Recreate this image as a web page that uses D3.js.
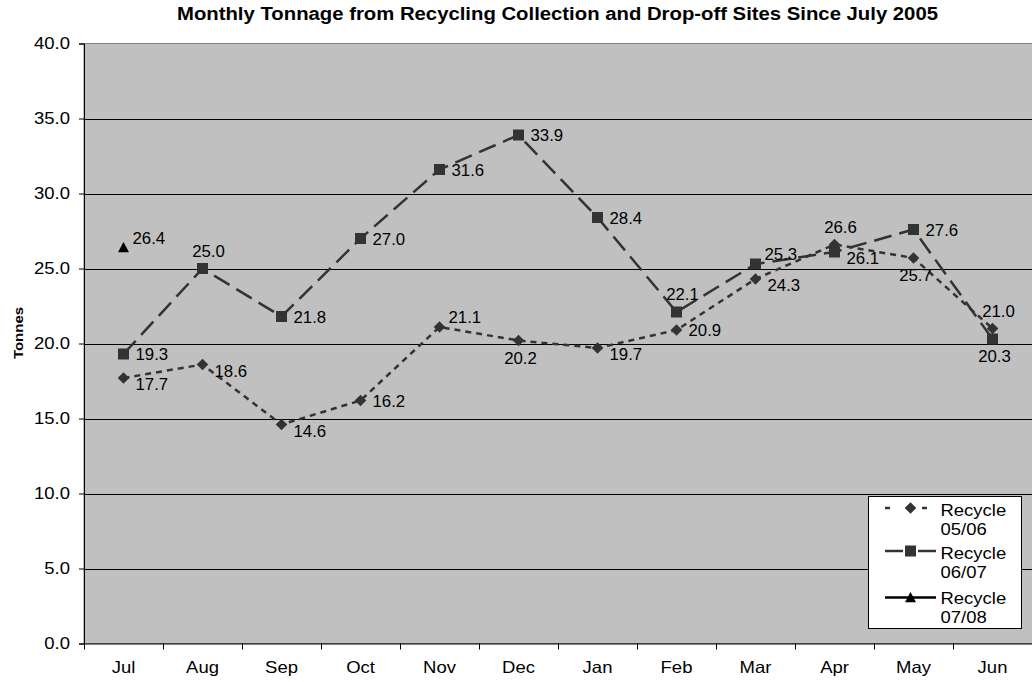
<!DOCTYPE html>
<html><head><meta charset="utf-8">
<script src="https://cdn.jsdelivr.net/npm/d3@7"></script>
<style>body{margin:0;background:#fff}text{font-family:"Liberation Sans",Arial,sans-serif}</style>
</head><body><svg id="c" width="1032" height="682"></svg>
<script>
const months = ["Jul","Aug","Sep","Oct","Nov","Dec","Jan","Feb","Mar","Apr","May","Jun"];
const yTicks = [0,5,10,15,20,25,30,35,40];
const recycle0506 = [17.7,18.6,14.6,16.2,21.1,20.2,19.7,20.9,24.3,26.6,25.7,21.0];
const recycle0607 = [19.3,25.0,21.8,27.0,31.6,33.9,28.4,22.1,25.3,26.1,27.6,20.3];
const recycle0708 = [26.4];
// label placement codes
const place0506 = ["rb","rb","rb","r","ra","b","rb","r","rb","a","b","a"];
const place0607 = ["r","a","r","r","r","r","r","a","ra","rb","r","b"];
const place0708 = ["ra"];
const seriesNames = [["Recycle","05/06"],["Recycle","06/07"],["Recycle","07/08"]];

const svg = d3.select("#c");
const L=84,R=1032,T=43.5,B=643.5;
const x = d3.scaleBand().domain(months).range([L,R]);
const y = d3.scaleLinear().domain([0,40]).range([B,T]);

function stretch(sel,k){
  sel.each(function(){const w=this.getComputedTextLength();
    d3.select(this).attr("textLength",w*k).attr("lengthAdjust","spacingAndGlyphs");});
}

svg.append("text").attr("x",557.5).attr("y",20).attr("text-anchor","middle")
  .attr("font-size","17.5px").attr("font-weight","bold").text("Monthly Tonnage from Recycling Collection and Drop-off Sites Since July 2005")
  .call(stretch,1.16);

svg.append("rect").attr("x",L).attr("y",T).attr("width",R-L+2).attr("height",B-T)
  .attr("fill","#c0c0c0").attr("stroke","#808080").attr("stroke-width",1);

svg.append("g").selectAll("line").data(yTicks.filter(d=>d>0&&d<40)).join("line")
  .attr("x1",L).attr("x2",R).attr("y1",d=>Math.round(y(d))+0.5).attr("y2",d=>Math.round(y(d))+0.5)
  .attr("stroke","#000").attr("stroke-width",1);

const yAxis = svg.append("g").attr("transform",`translate(${L},0)`)
  .call(d3.axisLeft(y).tickValues(yTicks).tickFormat(d3.format(".1f")).tickSize(5).tickPadding(9));
yAxis.select(".domain").attr("stroke","#000");
yAxis.selectAll("text").attr("font-size","16.5px").attr("fill","#000").style("font-family","Liberation Sans, Arial").call(stretch,1.12);

const xAxis = svg.append("g").attr("transform",`translate(0,${B})`)
  .call(d3.axisBottom(x).tickSize(0).tickPadding(18));
xAxis.select(".domain").attr("stroke","#000");
xAxis.selectAll("text").attr("font-size","16.5px").attr("fill","#000").style("font-family","Liberation Sans, Arial").call(stretch,1.12);
svg.append("g").selectAll("line").data(months).join("line")
  .attr("x1",d=>x(d)+0.5).attr("x2",d=>x(d)+0.5).attr("y1",B).attr("y2",B+6).attr("stroke","#000");

svg.append("text").attr("transform",`translate(23,333) rotate(-90)`).attr("text-anchor","middle")
  .attr("font-size","12.5px").attr("font-weight","bold").text("Tonnes").call(stretch,1.2);

const cx = i => x(months[i]) + x.bandwidth()/2;
const marker = {
  diamond: s => `M0,${-s}L${s},0L0,${s}L${-s},0Z`,
  square: s => `M${-s},${-s}H${s}V${s}H${-s}Z`,
  triangle: s => `M0,${-s}L${s},${s*0.85}H${-s}Z`
};
const offs = {
  r:{dx:12,dy:6,a:"start"}, rb:{dx:12,dy:12,a:"start"}, ra:{dx:9,dy:-4,a:"start"},
  a:{dx:6,dy:-12,a:"middle"}, b:{dx:2,dy:23,a:"middle"}
};
const series = [
  {vals:recycle0506, place:place0506, color:"#333333", dash:"6,5", mk:"diamond", ms:5.8},
  {vals:recycle0607, place:place0607, color:"#333333", dash:"18,8", mk:"square", ms:5.5},
  {vals:recycle0708, place:place0708, color:"#000000", dash:null, mk:"triangle", ms:5.5}
];
const line = d3.line().x((d,i)=>cx(i)).y(d=>y(d));
series.forEach(s=>{
  if (s.vals.length>1) svg.append("path").attr("d",line(s.vals)).attr("fill","none")
    .attr("stroke",s.color).attr("stroke-width",2.5).attr("stroke-dasharray",s.dash);
});
series.forEach(s=>{
  svg.append("g").selectAll("path").data(s.vals).join("path")
    .attr("transform",(d,i)=>`translate(${cx(i)},${y(d)})`).attr("d",marker[s.mk](s.ms)).attr("fill",s.color);
});
series.forEach(s=>{
  svg.append("g").selectAll("text").data(s.vals).join("text")
    .attr("x",(d,i)=>cx(i)+offs[s.place[i]].dx).attr("y",(d,i)=>y(d)+offs[s.place[i]].dy)
    .attr("text-anchor",(d,i)=>offs[s.place[i]].a).attr("font-size","16.3px").text(d=>d.toFixed(1))
    .call(stretch,1.03);
});

// legend
const lg = svg.append("g");
lg.append("rect").attr("x",868.5).attr("y",496.5).attr("width",153).attr("height",132).attr("fill","#fff").attr("stroke","#000");
const ly = [508,551,597.5];
const tb = [[516,535],[559,578],[604,623]];
series.forEach((s,k)=>{
  if(k===0){
    [[885,890],[922,927]].forEach(p=>lg.append("line").attr("x1",p[0]).attr("x2",p[1]).attr("y1",ly[k]).attr("y2",ly[k]).attr("stroke",s.color).attr("stroke-width",2.5));
  } else if(k===1){
    [[885,903],[918,936]].forEach(p=>lg.append("line").attr("x1",p[0]).attr("x2",p[1]).attr("y1",ly[k]).attr("y2",ly[k]).attr("stroke",s.color).attr("stroke-width",2.5));
  } else {
    lg.append("line").attr("x1",885).attr("x2",936).attr("y1",ly[k]).attr("y2",ly[k]).attr("stroke",s.color).attr("stroke-width",2.5);
  }
  lg.append("path").attr("transform",`translate(910.5,${ly[k]})`).attr("d",marker[s.mk](s.ms)).attr("fill",s.color);
  lg.append("text").attr("x",940.5).attr("y",tb[k][0]).attr("font-size","16.8px").text(seriesNames[k][0]).call(stretch,1.1);
  lg.append("text").attr("x",940.5).attr("y",tb[k][1]).attr("font-size","16.8px").text(seriesNames[k][1]).call(stretch,1.1);
});
</script></body></html>
